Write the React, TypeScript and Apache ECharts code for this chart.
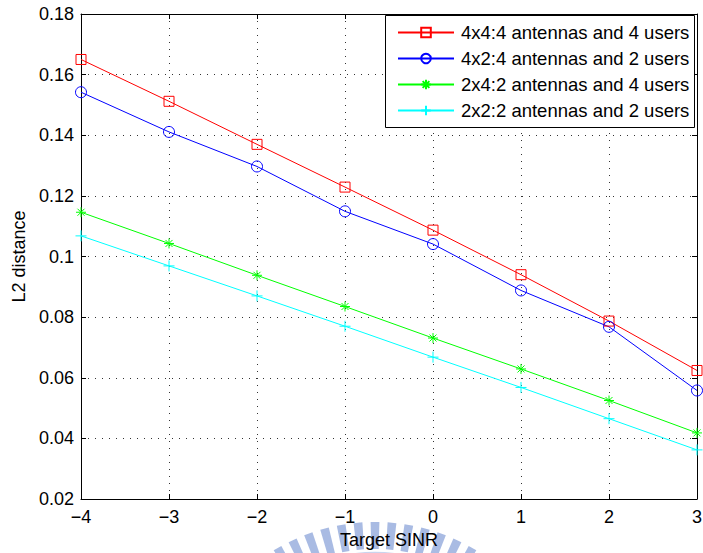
import React, { useEffect, useRef } from 'react';
import * as echarts from 'echarts';

const xValues = [-4, -3, -2, -1, 0, 1, 2, 3];
const seriesNames = [
  '4x4:4 antennas and 4 users',
  '4x2:4 antennas and 2 users',
  '2x4:2 antennas and 4 users',
  '2x2:2 antennas and 2 users',
];
const s4x4 = [0.165, 0.1512, 0.137, 0.1229, 0.1087, 0.094, 0.0787, 0.0624];
const s4x2 = [0.1542, 0.1411, 0.1297, 0.1149, 0.1041, 0.0888, 0.0768, 0.0558];
const s2x4 = [0.1146, 0.1043, 0.0938, 0.0835, 0.0731, 0.0629, 0.0525, 0.0418];
const s2x2 = [0.1068, 0.0969, 0.087, 0.077, 0.0668, 0.0568, 0.0465, 0.0362];
const seriesValues = [s4x4, s4x2, s2x4, s2x2];
const seriesColors = ['#ff0000', '#0000ff', '#00ff00', '#00ffff'];

const PLUS = 'path://M0,5L10,5M5,0L5,10';
const STAR = 'path://M0,5L10,5M5,0L5,10M1.5,1.5L8.5,8.5M8.5,1.5L1.5,8.5';
const seriesSymbols = ['rect', 'circle', STAR, PLUS];
const seriesSymbolSizes = [10, 11, 10, 11];

const FONT = 'Liberation Sans, Arial, Helvetica, sans-serif';

function watermark() {
  const els: any[] = [];
  const cx = 375;
  const cy = 717;
  for (let k = -6; k <= 6; k++) {
    const a = (k * 5 * Math.PI) / 180;
    const dx = Math.sin(a);
    const dy = -Math.cos(a);
    const px = Math.cos(a);
    const py = Math.sin(a);
    const ro = 195;
    const ri = 168;
    const ho = 4.4;
    const hi = 3.7;
    els.push({
      type: 'polygon',
      silent: true,
      z: -10,
      shape: {
        points: [
          [cx + dx * ro - px * ho, cy + dy * ro - py * ho],
          [cx + dx * ro + px * ho, cy + dy * ro + py * ho],
          [cx + dx * ri + px * hi, cy + dy * ri + py * hi],
          [cx + dx * ri - px * hi, cy + dy * ri - py * hi],
        ],
      },
      style: { fill: '#a9bbe3' },
    });
  }
  els.push({
    type: 'arc',
    silent: true,
    z: -10,
    shape: { cx, cy, r: 163, startAngle: -Math.PI / 2 - 0.32, endAngle: -Math.PI / 2 + 0.32 },
    style: { stroke: '#c9d4ee', lineWidth: 4, fill: 'none' },
  });
  return els;
}

export default function App() {
  const ref = useRef<HTMLDivElement>(null);
  useEffect(() => {
    if (!ref.current) return;
    const chart = echarts.init(ref.current, null, { renderer: 'svg' });
    const axisCommon = {
      type: 'value' as const,
      axisLine: { show: true, onZero: false, lineStyle: { color: '#000', width: 1 } },
      axisTick: { show: true, inside: true, length: 5, lineStyle: { color: '#000' } },
      splitLine: { show: false },
      axisLabel: { show: false },
    };
    const gridLine = { show: true, lineStyle: { color: '#333', type: [1, 6], width: 1 } };
    const option: any = {
      animation: false,
      backgroundColor: '#fff',
      textStyle: { fontFamily: FONT },
      grid: {
        left: 81,
        right: 6,
        top: 14,
        bottom: 54,
        containLabel: false,
        outerBoundsMode: 'none',
      },
      xAxis: [
        {
          ...axisCommon,
          min: -4,
          max: 3,
          interval: 1,
          position: 'bottom',
          name: 'Target SINR',
          nameLocation: 'middle',
          nameGap: 30,
          nameTextStyle: { fontFamily: FONT, fontSize: 18, color: '#000' },
          axisLabel: {
            show: true,
            margin: 9,
            fontFamily: FONT,
            fontSize: 18,
            color: '#000',
            formatter: (v: number) => (v < 0 ? '\u2212' + Math.abs(v) : String(v)),
          },
          splitLine: gridLine,
        },
        { ...axisCommon, min: -4, max: 3, interval: 1, position: 'top' },
      ],
      yAxis: [
        {
          ...axisCommon,
          min: 0.02,
          max: 0.18,
          interval: 0.02,
          position: 'left',
          name: 'L2 distance',
          nameLocation: 'middle',
          nameGap: 53,
          nameRotate: 90,
          nameTextStyle: { fontFamily: FONT, fontSize: 18, color: '#000' },
          axisLabel: {
            show: true,
            margin: 7,
            fontFamily: FONT,
            fontSize: 18,
            color: '#000',
            formatter: (v: number) => String(parseFloat(v.toFixed(2))),
          },
          splitLine: gridLine,
        },
        { ...axisCommon, min: 0.02, max: 0.18, interval: 0.02, position: 'right' },
      ],
      legend: {
        show: true,
        orient: 'vertical',
        left: 397,
        top: 23,
        padding: 0,
        itemGap: 7,
        itemWidth: 56,
        itemHeight: 12,
        z: 6,
        textStyle: { fontFamily: FONT, fontSize: 18.5, color: '#000', padding: [0, 0, 0, 2] },
        data: seriesNames,
      },
      graphic: [
        {
          type: 'rect',
          z: 5,
          silent: true,
          shape: { x: 385.5, y: 15.5, width: 309, height: 112 },
          style: { fill: '#fff', stroke: '#000', lineWidth: 1 },
        },
        ...watermark(),
      ],
      series: seriesNames.map((name, i) => ({
        name,
        type: 'line',
        data: xValues.map((x, j) => [x, seriesValues[i][j]]),
        symbol: seriesSymbols[i],
        symbolSize: seriesSymbolSizes[i],
        showAllSymbol: true,
        lineStyle: { color: seriesColors[i], width: 1 },
        itemStyle: { color: 'transparent', borderColor: seriesColors[i], borderWidth: 1 },
        emphasis: { disabled: true },
        z: 3,
      })),
    };
    chart.setOption(option);
    return () => chart.dispose();
  }, []);
  return (
    <div
      ref={ref}
      style={{ position: 'fixed', left: 0, top: 0, width: 703, height: 553 }}
    />
  );
}
